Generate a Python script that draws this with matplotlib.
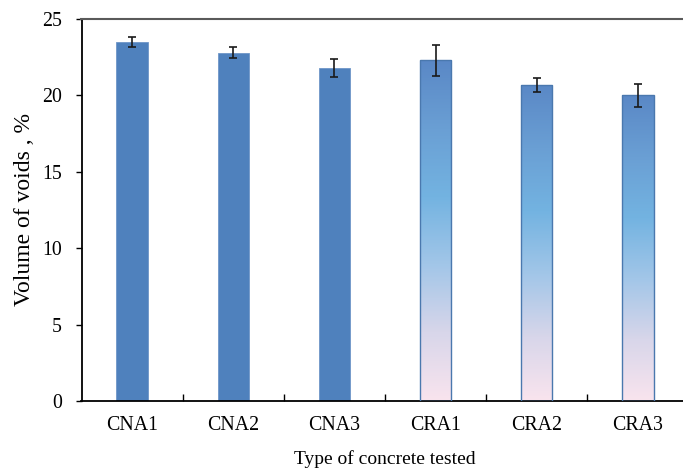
import numpy as np
import matplotlib.pyplot as plt
from matplotlib.colors import LinearSegmentedColormap

# Volume of voids per concrete type (mean and std deviation)
types = ['CNA1', 'CNA2', 'CNA3', 'CRA1', 'CRA2', 'CRA3']
voids = [23.5, 22.8, 21.8, 22.3, 20.7, 20.0]
errors = [0.3, 0.37, 0.6, 1.0, 0.45, 0.75]
gradient_fill = [False, False, False, True, True, True]

plt.rcParams['font.family'] = ['Liberation Serif', 'DejaVu Serif']

fig = plt.figure(figsize=(6.83, 4.74), dpi=100)
ax = fig.add_axes([81.5 / 683, 73 / 474, 607 / 683, 382 / 474])

x = np.arange(len(types))
width = 0.31

grad = LinearSegmentedColormap.from_list(
    'voids', ['#f9e4ee', '#d8d6ea', '#a2c6e8', '#73b3e1', '#6a9fd4', '#5a88c6'])

for xi, v, g in zip(x, voids, gradient_fill):
    if g:
        bar = ax.bar(xi, v, width, color='none', edgecolor='#4a78ae', linewidth=1.0, zorder=3)[0]
        img = ax.imshow(np.linspace(0, 1, 256).reshape(-1, 1), cmap=grad, origin='lower',
                        extent=[xi - width / 2, xi + width / 2, 0, v], aspect='auto', zorder=2)
        img.set_clip_path(bar)
    else:
        ax.bar(xi, v, width, color='#4f81bd', edgecolor='#6f96c8', linewidth=0.6, zorder=2)

ax.errorbar(x, voids, yerr=errors, fmt='none', ecolor='#1a1a1a', elinewidth=1.2,
            capsize=3, capthick=1.2, zorder=4)

ax.set_xlim(-0.5, len(types) - 0.5)
ax.set_ylim(0, 25)
ax.set_yticks([0, 5, 10, 15, 20, 25])
ax.set_xticks(x)
ax.set_xticklabels(types)
ax.set_xticks(np.arange(0.5, len(types) - 0.5, 1), minor=True)
ax.tick_params(axis='x', which='major', length=0, pad=11, labelsize=14.3)
ax.tick_params(axis='x', which='minor', direction='in', length=5, width=1.0)
ax.tick_params(axis='y', direction='out', length=4, width=1.0, pad=10, labelsize=14.3)

ax.spines['right'].set_visible(False)
ax.spines['top'].set_color('#5a5a5a')
ax.spines['top'].set_linewidth(1.5)
for s in ['left', 'bottom']:
    ax.spines[s].set_linewidth(1.3)

ax.set_xlabel('Type of concrete tested', fontsize=14, labelpad=11)
ax.set_ylabel('Volume of voids , %', fontsize=17, labelpad=5)

fig.savefig('out.png', dpi=100)
